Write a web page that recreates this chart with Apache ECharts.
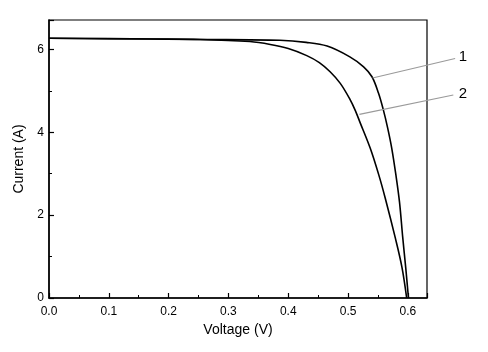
<!DOCTYPE html>
<html>
<head>
<meta charset="utf-8">
<script src="https://cdn.jsdelivr.net/npm/echarts@6/dist/echarts.min.js"></script>
<style>html,body{margin:0;padding:0;background:#fff}#c{width:488px;height:352px}</style>
</head>
<body>
<div id="c"></div>
<script>
const voltage1 = [0, 0.1, 0.2525, 0.386, 0.43, 0.465, 0.503, 0.526, 0.540, 0.551, 0.559, 0.566, 0.573, 0.580, 0.586, 0.5915, 0.5965, 0.601];
const current1 = [6.27, 6.26, 6.24, 6.22, 6.17, 6.08, 5.82, 5.58, 5.34, 4.94, 4.54, 4.12, 3.62, 2.97, 2.32, 1.45, 0.72, 0];
const voltage2 = [0, 0.169, 0.2525, 0.336, 0.370, 0.40, 0.431, 0.452, 0.470, 0.487, 0.503, 0.512, 0.520, 0.537, 0.551, 0.562, 0.579, 0.590, 0.598];
const current2 = [6.27, 6.25, 6.24, 6.19, 6.12, 6.02, 5.85, 5.68, 5.46, 5.18, 4.80, 4.53, 4.24, 3.62, 2.99, 2.42, 1.45, 0.75, 0];
const curveLabels = ['1', '2'];
// annotation leader lines: [start V, start I, end V, end I]
const leaders = [[0.541, 5.31, 0.679, 5.78], [0.519, 4.43, 0.676, 4.90]];
const labelPos = [[0.692, 5.81], [0.692, 4.92]];

const chart = echarts.init(document.getElementById('c'));
const font = 'Liberation Sans, Arial, sans-serif';
const s1 = voltage1.map((v, i) => [v, current1[i]]);
const s2 = voltage2.map((v, i) => [v, current2[i]]);
chart.setOption({
  animation: false,
  grid: {left: 49, right: 61, top: 20, bottom: 54, show: true, borderColor: '#000', borderWidth: 1.2, backgroundColor: 'transparent'},
  xAxis: {
    type: 'value', min: 0, max: 0.632, interval: 0.1,
    name: 'Voltage (V)', nameLocation: 'middle', nameGap: 25,
    nameTextStyle: {color: '#000', fontSize: 14, fontFamily: font},
    axisLine: {onZero: false, lineStyle: {color: '#000', width: 1.5}},
    axisTick: {inside: true, length: 5, lineStyle: {color: '#000', width: 1.2}},
    minorTick: {show: true, splitNumber: 2, length: 3, lineStyle: {color: '#000', width: 1}},
    axisLabel: {color: '#000', fontSize: 12, fontFamily: font, margin: 8, showMaxLabel: false, formatter: v => v.toFixed(1)},
    splitLine: {show: false}
  },
  yAxis: {
    type: 'value', min: 0, max: 6.71, interval: 2,
    name: 'Current (A)', nameLocation: 'middle', nameGap: 18, nameRotate: 90,
    nameTextStyle: {color: '#000', fontSize: 14, fontFamily: font},
    axisLine: {onZero: false, lineStyle: {color: '#000', width: 1.5}},
    axisTick: {inside: true, length: 5, lineStyle: {color: '#000', width: 1.2}},
    minorTick: {show: true, splitNumber: 2, length: 3, lineStyle: {color: '#000', width: 1}},
    axisLabel: {color: '#000', fontSize: 12, fontFamily: font, margin: 5, showMaxLabel: false},
    splitLine: {show: false}
  },
  series: [
    {type: 'line', data: s1, showSymbol: false, smooth: 0.35, lineStyle: {color: '#000', width: 1.6}, clip: false},
    {type: 'line', data: s2, showSymbol: false, smooth: 0.35, lineStyle: {color: '#000', width: 1.6}, clip: false}
  ]
});
const els = [];
leaders.forEach((l, i) => {
  const a = chart.convertToPixel({gridIndex: 0}, [l[0], l[1]]);
  const b = chart.convertToPixel({gridIndex: 0}, [l[2], l[3]]);
  els.push({type: 'line', shape: {x1: a[0], y1: a[1], x2: b[0], y2: b[1]}, style: {stroke: '#9a9a9a', lineWidth: 1.2}, z: 10});
  const p = chart.convertToPixel({gridIndex: 0}, labelPos[i]);
  els.push({type: 'text', x: p[0], y: p[1], style: {text: curveLabels[i], fill: '#000', font: '15px ' + font, textAlign: 'center', textVerticalAlign: 'middle'}, z: 10});
});
chart.setOption({graphic: els});
</script>
</body>
</html>
